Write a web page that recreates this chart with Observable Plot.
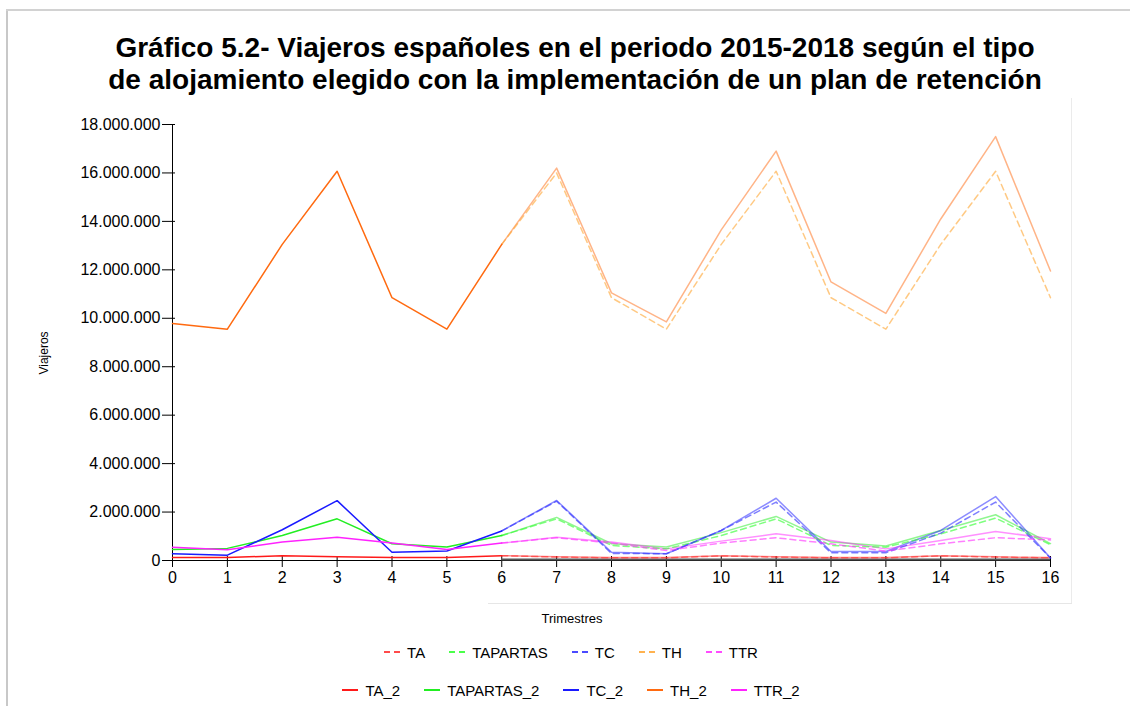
<!DOCTYPE html>
<html><head><meta charset="utf-8">
<script src="https://cdn.jsdelivr.net/npm/d3@7"></script>
<script src="https://cdn.jsdelivr.net/npm/@observablehq/plot@0.6"></script>
<style>
body{margin:0;background:#fff;font-family:"Liberation Sans",Arial,sans-serif;}
#wrap{position:relative;width:1130px;height:706px;overflow:hidden;background:#fff;}
.fr{position:absolute;}
#title{position:absolute;top:32px;left:0;width:1150px;text-align:center;font-weight:bold;font-size:28px;line-height:32px;color:#000;}
#chart{position:absolute;top:108px;left:0;}
#ylab{position:absolute;left:44px;top:353px;transform:translate(-50%,-50%) rotate(-90deg);font-size:12px;white-space:nowrap;}
#xlab{position:absolute;left:572px;top:618px;transform:translate(-50%,-50%);font-size:13px;white-space:nowrap;}
#legend{position:absolute;top:633px;left:0;width:1142px;}
.row{display:flex;justify-content:center;gap:24px;height:38px;align-items:center;font-size:15px;}
.item{display:flex;align-items:center;}
.item svg{margin-right:7px;}
</style></head>
<body>
<div id="wrap">
  <div class="fr" style="left:6px;top:9px;width:2px;height:697px;background:#c8c8c8"></div>
  <div class="fr" style="left:6px;top:9px;width:1124px;height:2px;background:#d2d2d2"></div>
  <div class="fr" style="left:1071px;top:98px;width:1px;height:505px;background:#ebebeb"></div>
  <div class="fr" style="left:488px;top:603px;width:584px;height:1px;background:#e6e6e6"></div>
  <div id="title">Gráfico 5.2- Viajeros españoles en el periodo 2015-2018 según el tipo<br>de alojamiento elegido con la implementación de un plan de retención</div>
  <div id="chart"></div>
  <div id="ylab">Viajeros</div>
  <div id="xlab">Trimestres</div>
  <div id="legend"></div>
</div>
<script>
// ---- Data ----
const trimestres = [0,1,2,3,4,5,6,7,8,9,10,11,12,13,14,15,16];
const trimestresPrevision = [6,7,8,9,10,11,12,13,14,15,16];
const inicioPrevision = 6;

// Solid series (_2), quarters 0..16
const TA_2       = [120000,120000,200000,150000,120000,120000,200000,150000,120000,120000,200000,150000,120000,120000,200000,150000,120000];
const TAPARTAS_2 = [450000,500000,1030000,1720000,690000,560000,1030000,1780000,690000,560000,1150000,1820000,760000,600000,1240000,1890000,700000];
const TC_2       = [280000,220000,1270000,2470000,340000,390000,1220000,2480000,340000,280000,1240000,2570000,370000,370000,1240000,2640000,100000];
const TH_2       = [9780000,9550000,13050000,16070000,10850000,9550000,13050000,16200000,11050000,9850000,13650000,16900000,11500000,10200000,14100000,17500000,11950000];
const TTR_2      = [550000,440000,760000,960000,720000,450000,720000,960000,760000,480000,800000,1100000,830000,480000,830000,1200000,900000];

// Dashed series, quarters 6..16
const TA       = [200000,140000,110000,110000,190000,140000,110000,110000,190000,140000,110000];
const TAPARTAS = [1030000,1720000,620000,480000,1030000,1720000,620000,550000,1100000,1750000,650000];
const TC       = [1220000,2450000,290000,280000,1240000,2410000,320000,320000,1130000,2410000,100000];
const TH       = [13050000,16000000,10850000,9550000,13050000,16070000,10850000,9550000,13050000,16070000,10850000];
const TTR      = [720000,940000,720000,410000,720000,940000,690000,390000,690000,940000,850000];

const yTicks = [0,2000000,4000000,6000000,8000000,10000000,12000000,14000000,16000000,18000000];
const xTicks = trimestres;

const nombresDash  = ["TA","TAPARTAS","TC","TH","TTR"];
const nombresSolid = ["TA_2","TAPARTAS_2","TC_2","TH_2","TTR_2"];
const coloresDash  = ["#ff2a2a","#2aff2a","#2a2aff","#ffa530","#ff2aff"];
const coloresSolid = ["#ff1a1a","#22ee22","#1a1aff","#ff6a10","#ff22ff"];

// ---- Build tables ----
const solidSeries = {TA_2, TAPARTAS_2, TC_2, TH_2, TTR_2};
const dashSeries = {TA, TAPARTAS, TC, TH, TTR};
const solidRows = [];
for (const k of nombresSolid) solidSeries[k].forEach((v,i)=>solidRows.push({serie:k, x:trimestres[i], y:v}));
const dashRows = [];
for (const k of nombresDash) dashSeries[k].forEach((v,i)=>dashRows.push({serie:k, x:trimestresPrevision[i], y:v}));

const fmt = d3.formatLocale({decimal:",",thousands:".",grouping:[3],currency:["","€"]}).format(",");

const chart = Plot.plot({
  width:1130, height:522,
  marginTop:16, marginLeft:172, marginRight:80, marginBottom:70,
  style:{fontFamily:"Liberation Sans, Arial, sans-serif", fontSize:"16px", color:"#000", background:"transparent", overflow:"visible"},
  x:{domain:[0,16]},
  y:{domain:[0,18000000]},
  color:{domain:[...nombresDash,...nombresSolid], range:[...coloresDash,...coloresSolid]},
  marks:[
    Plot.axisY({ticks:yTicks, tickSize:10, tickPadding:2, tickFormat:fmt, label:null, fontSize:16}),
    Plot.axisY({ticks:yTicks, tickSize:3, dx:3, tickFormat:()=>"", label:null}),
    Plot.axisX({ticks:xTicks, tickSize:7, tickPadding:4, tickFormat:d=>String(d), label:null, fontSize:16}),
    Plot.axisX({ticks:xTicks, tickSize:4, dy:-4, tickFormat:()=>"", label:null}),
    Plot.ruleX([0], {stroke:"#000", strokeWidth:1}),
    Plot.ruleY([0], {stroke:"#000", strokeWidth:1}),
    Plot.ruleY([0], {x1:inicioPrevision, x2:16, stroke:"#555", strokeWidth:2.2, dy:-1}),
    Plot.lineY(solidRows.filter(d=>d.x>=inicioPrevision), {x:"x", y:"y", z:"serie", stroke:"serie", strokeWidth:1.5, strokeOpacity:0.5}),
    Plot.lineY(dashRows, {x:"x", y:"y", z:"serie", stroke:"serie", strokeWidth:1.5, strokeOpacity:0.6, strokeDasharray:"6,4"}),
    Plot.lineY(solidRows.filter(d=>d.x<=inicioPrevision), {x:"x", y:"y", z:"serie", stroke:"serie", strokeWidth:1.5})
  ]
});
document.getElementById("chart").appendChild(chart);

// ---- Legend ----
function row(names, cols, dashed){
  const r = document.createElement("div"); r.className="row";
  names.forEach((n,i)=>{
    const it = document.createElement("div"); it.className="item";
    it.innerHTML = `<svg width="16" height="4"><line x1="0" x2="16" y1="2" y2="2" stroke="${cols[i]}" stroke-width="2" ${dashed?'stroke-dasharray="6,4"':''} ${dashed?'stroke-opacity="0.85"':''}/></svg><span>${n}</span>`;
    r.appendChild(it);
  });
  return r;
}
const lg = document.getElementById("legend");
lg.appendChild(row(nombresDash, coloresDash, true));
lg.appendChild(row(nombresSolid, coloresSolid, false));
</script>
</body></html>
